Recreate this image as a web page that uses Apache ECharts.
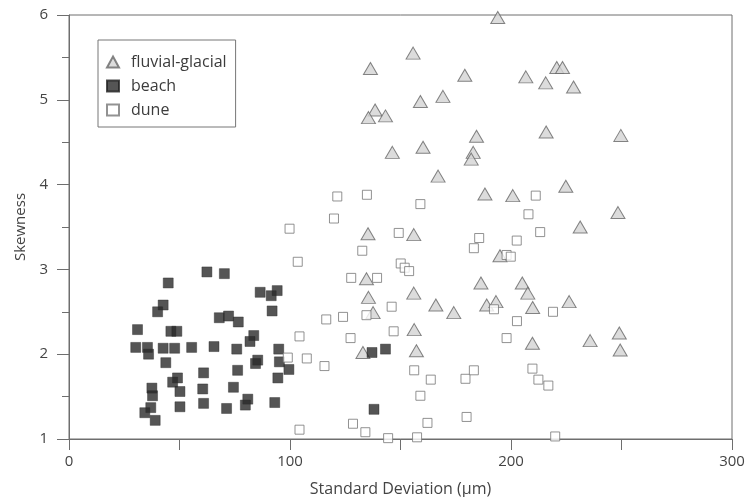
<!DOCTYPE html>
<html>
<head>
<meta charset="utf-8">
<script src="https://cdn.jsdelivr.net/npm/echarts@6/dist/echarts.min.js"></script>
<style>
    html, body {margin: 0; padding: 0; background: #fff;}
    #chart {width: 751px; height: 497px;}
</style>
</head>
<body>
<div id="chart"></div>
<script>
// [standard deviation (um), skewness]
let fluvialGlacial = [
    [194, 5.97], [155.7, 5.55], [136.4, 5.37], [179.1, 5.29], [169.2, 5.04],
    [159, 4.98], [138.5, 4.88], [135.5, 4.79], [143.2, 4.81], [184.4, 4.57],
    [146.3, 4.38], [160.2, 4.44], [182.9, 4.38], [182, 4.30], [220.7, 5.38],
    [223.3, 5.38], [206.7, 5.27], [215.7, 5.20], [228.3, 5.15], [215.9, 4.62],
    [249.7, 4.58], [167, 4.10], [188.2, 3.89], [200.8, 3.87], [135.3, 3.42],
    [156, 3.41], [195, 3.16], [134.6, 2.89], [186.4, 2.84], [135.5, 2.67],
    [156, 2.72], [166, 2.58], [174.1, 2.49], [189, 2.58], [193.2, 2.62],
    [224.8, 3.98], [248.4, 3.67], [231.3, 3.50], [205.1, 2.84], [207.6, 2.72],
    [226.3, 2.62], [209.8, 2.55], [209.7, 2.13], [235.8, 2.16], [249, 2.25],
    [249.4, 2.05], [137.6, 2.49], [156.2, 2.29], [157.2, 2.04], [133, 2.02]
];

let beach = [
    [62.4, 2.97], [70.3, 2.95], [44.9, 2.84], [86.5, 2.73], [91.5, 2.69],
    [94.2, 2.75], [42.6, 2.58], [40.1, 2.50], [91.9, 2.51], [68, 2.43],
    [72.2, 2.45], [76.6, 2.38], [31, 2.29], [46.1, 2.27], [48.8, 2.27],
    [83.6, 2.22], [81.9, 2.15], [30.2, 2.08], [35.5, 2.08], [36, 2.0],
    [42.6, 2.07], [47.8, 2.07], [55.5, 2.08], [65.6, 2.09], [75.9, 2.06],
    [94.9, 2.06], [43.8, 1.90], [85.4, 1.93], [84.4, 1.89], [95.2, 1.91],
    [99.5, 1.82], [76.3, 1.81], [60.9, 1.78], [49.1, 1.72], [46.9, 1.67],
    [94.5, 1.72], [37.5, 1.60], [74.4, 1.61], [60.5, 1.59], [50.2, 1.56],
    [37.8, 1.51], [80.9, 1.47], [79.8, 1.40], [93.1, 1.43], [60.9, 1.42],
    [50.2, 1.38], [71.3, 1.36], [37, 1.37], [34.3, 1.31], [39, 1.22],
    [137.1, 2.02], [143.2, 2.06], [138, 1.35]
];

let dune = [
    [104.3, 2.21], [99, 1.96], [107.6, 1.95], [104.3, 1.11], [121.4, 3.86],
    [134.8, 3.88], [159, 3.77], [119.9, 3.60], [99.8, 3.48], [149.2, 3.43],
    [185.6, 3.37], [202.6, 3.34], [183.2, 3.25], [132.7, 3.22], [150.1, 3.07],
    [151.9, 3.02], [153.9, 2.98], [198, 3.17], [199.9, 3.15], [103.5, 3.09],
    [127.7, 2.90], [139.4, 2.90], [146, 2.56], [211.2, 3.87], [207.9, 3.65],
    [213.2, 3.44], [219, 2.50], [116.4, 2.41], [124, 2.44], [134.6, 2.46],
    [192.3, 2.53], [202.7, 2.39], [127.4, 2.19], [146.9, 2.27], [198, 2.19],
    [115.6, 1.86], [156.2, 1.81], [163.7, 1.70], [179.4, 1.71], [183.2, 1.81],
    [159, 1.51], [128.5, 1.18], [134.1, 1.08], [144.4, 1.01], [157.5, 1.02],
    [162.2, 1.19], [179.9, 1.26], [209.7, 1.83], [212.4, 1.70], [216.9, 1.63],
    [220, 1.03]
];

let seriesNames = ['fluvial-glacial', 'beach', 'dune'];

let font = 'Open Sans';
let axisColor = '#6e6e6e';
let labelColor = '#444';

let chart = echarts.init(document.getElementById('chart'));

let option = {
    animation: false,
    textStyle: {fontFamily: font},
    grid: {
        left: 69,
        right: 19,
        top: 15,
        bottom: 58,
        outerBoundsMode: 'none',
        show: true,
        borderColor: axisColor,
        borderWidth: 1
    },
    legend: {
        orient: 'vertical',
        left: 98,
        top: 40,
        data: seriesNames,
        itemWidth: 12,
        itemHeight: 11,
        itemGap: 8,
        padding: [14, 9, 9, 8],
        borderColor: '#777',
        borderWidth: 1,
        borderRadius: 0,
        textStyle: {
            fontFamily: font,
            fontSize: 16,
            color: '#3c3c3c',
            padding: [0, 0, 0, 7]
        }
    },
    xAxis: {
        type: 'value',
        min: 0,
        max: 300,
        interval: 100,
        name: 'Standard Deviation (\u03bcm)',
        nameLocation: 'middle',
        nameGap: 42,
        nameTextStyle: {fontFamily: font, fontSize: 16, color: labelColor},
        axisLine: {lineStyle: {color: axisColor, width: 1}},
        axisTick: {length: 11, lineStyle: {color: axisColor}},
        minorTick: {show: true, splitNumber: 2, length: 11, lineStyle: {color: axisColor}},
        axisLabel: {margin: 15, fontSize: 15, color: labelColor},
        splitLine: {show: false}
    },
    yAxis: {
        type: 'value',
        min: 1,
        max: 6,
        interval: 1,
        name: 'Skewness',
        nameLocation: 'middle',
        nameGap: 41,
        nameTextStyle: {fontFamily: font, fontSize: 15, color: labelColor},
        axisLine: {lineStyle: {color: axisColor, width: 1}},
        axisTick: {length: 12, lineStyle: {color: axisColor}},
        minorTick: {show: true, splitNumber: 2, length: 7, lineStyle: {color: axisColor}},
        axisLabel: {margin: 21, fontSize: 15, color: labelColor},
        splitLine: {show: false}
    },
    series: [
        {
            name: seriesNames[0],
            type: 'scatter',
            clip: false,
            symbol: 'triangle',
            symbolSize: [14, 12],
            data: fluvialGlacial,
            itemStyle: {color: '#d3d3d3', borderColor: '#666', borderWidth: 1}
        },
        {
            name: seriesNames[1],
            type: 'scatter',
            clip: false,
            symbol: 'rect',
            symbolSize: 10,
            data: beach,
            itemStyle: {color: '#2b2b2b', borderColor: '#222', borderWidth: 0.5}
        },
        {
            name: seriesNames[2],
            type: 'scatter',
            clip: false,
            symbol: 'rect',
            symbolSize: 9,
            data: dune,
            itemStyle: {color: '#fff', borderColor: '#777', borderWidth: 1}
        }
    ]
};

chart.setOption(option);
</script>
</body>
</html>
